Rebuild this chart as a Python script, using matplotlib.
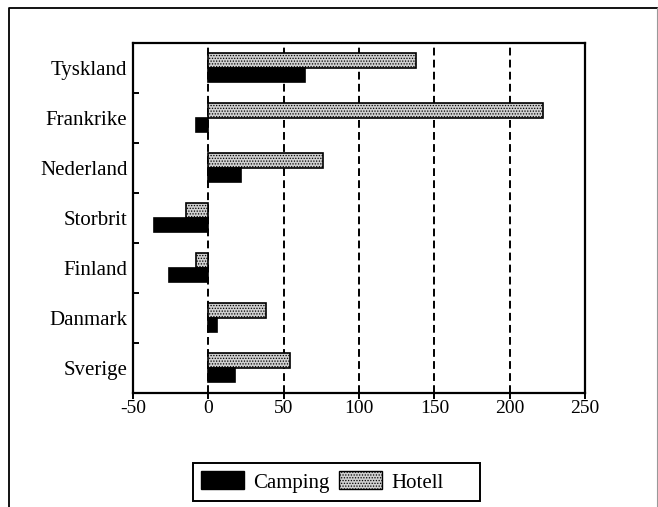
import matplotlib.pyplot as plt
import numpy as np
from matplotlib.lines import Line2D
from matplotlib.patches import Patch, Rectangle

plt.rcParams['font.family'] = ['Liberation Serif', 'DejaVu Serif']
plt.rcParams['axes.unicode_minus'] = False
plt.rcParams['hatch.linewidth'] = 0.6
plt.rcParams['hatch.color'] = '#555555'

# data (top to bottom)
countries = ['Tyskland', 'Frankrike', 'Nederland', 'Storbrit', 'Finland', 'Danmark', 'Sverige']
camping = [64, -8, 22, -36, -26, 6, 18]
hotell = [138, 222, 76, -15, -8.5, 38, 54]
x_ticks = [-50, 0, 50, 100, 150, 200, 250]

fig = plt.figure(figsize=(6.58, 5.07), dpi=100)
ax = fig.add_axes([0.2021, 0.2249, 0.687, 0.6903])

y = np.arange(len(countries))[::-1]
h = 0.29

# grid first so bars sit on top
for xv in x_ticks[1:-1]:
    ax.axvline(xv, color='black', lw=1.4, ls=(0, (4, 2.2)), zorder=1)

ax.barh(y + h / 2, hotell, height=h, color='#cfcfcf', edgecolor='black',
        hatch='......', linewidth=1.2, zorder=3, label='Hotell')
ax.barh(y - h / 2, camping, height=h, color='black', edgecolor='black',
        linewidth=1.2, zorder=3, label='Camping')

ax.set_xlim(-50, 250)
ax.set_ylim(-0.5, len(countries) - 0.5)
ax.set_xticks(x_ticks)
ax.set_xticklabels([str(v) for v in x_ticks], fontsize=14)

ax.set_yticks(y)
ax.set_yticklabels(countries, fontsize=15)
ax.tick_params(axis='y', length=0, pad=4)
ax.set_yticks(np.arange(len(countries) + 1) - 0.5, minor=True)
ax.tick_params(axis='y', which='minor', direction='in', length=4, width=1.4)
ax.tick_params(axis='x', direction='out', length=4, width=1.4, pad=1)

for sp in ax.spines.values():
    sp.set_linewidth(1.6)

# legend without its own frame, box drawn separately (it has extra room on the right)
handles = [Patch(facecolor='black', edgecolor='black', label='Camping'),
           Patch(facecolor='#cfcfcf', edgecolor='black', hatch='......', label='Hotell')]
fig.legend(handles=handles, loc='center left', bbox_to_anchor=(0.3055, 0.0493), ncol=2,
           fontsize=15, frameon=False, handlelength=2.05, handleheight=0.95,
           handletextpad=0.45, columnspacing=0.45, borderpad=0, borderaxespad=0)
fig.add_artist(Rectangle((0.2933, 0.0118), 0.4362, 0.075, transform=fig.transFigure,
                         fill=False, edgecolor='black', lw=1.4))

# outer frame (open at bottom)
fig.add_artist(Line2D([0.014, 0.014, 0.998], [0.0, 0.984, 0.984],
                      transform=fig.transFigure, color='black', lw=1.3))
fig.add_artist(Line2D([0.998, 0.998], [0.984, 0.0],
                      transform=fig.transFigure, color='#999999', lw=0.8))

fig.savefig('out.png', dpi=100)
